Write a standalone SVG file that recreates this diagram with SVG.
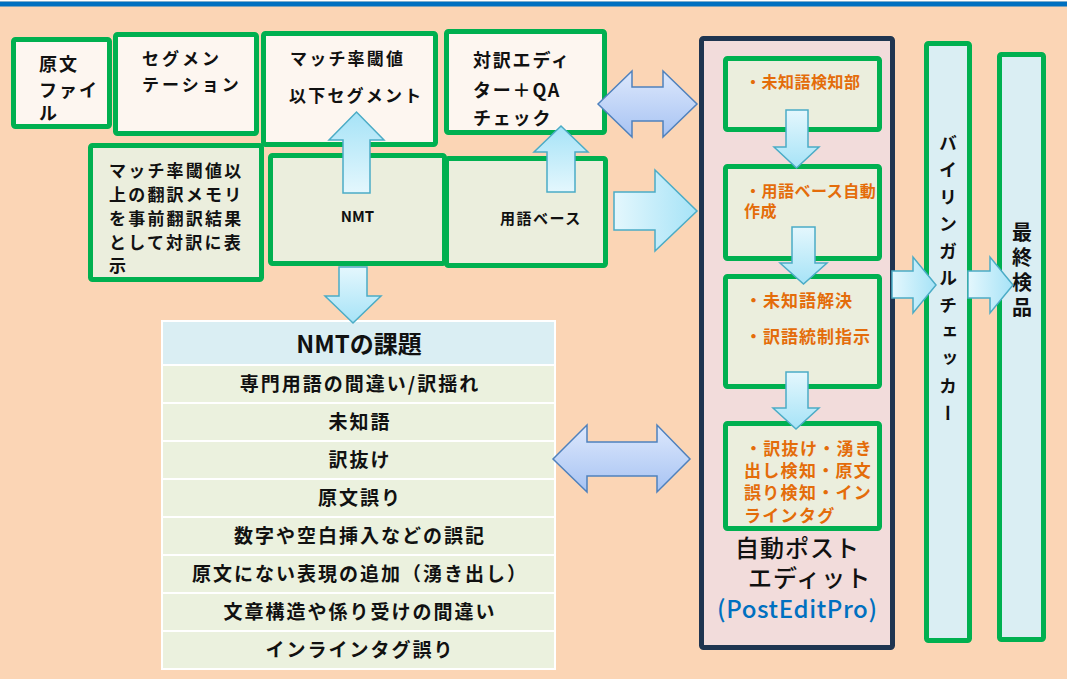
<svg xmlns="http://www.w3.org/2000/svg" width="1067" height="679" viewBox="0 0 1067 679">
<defs>
<linearGradient id="gUp" x1="0" y1="1" x2="0" y2="0"><stop offset="0" stop-color="#E4F7FD"/><stop offset="1" stop-color="#A6E3F7"/></linearGradient>
<linearGradient id="gDown" x1="0" y1="0" x2="0" y2="1"><stop offset="0" stop-color="#E4F7FD"/><stop offset="1" stop-color="#A6E3F7"/></linearGradient>
<linearGradient id="gRight" x1="0" y1="0" x2="1" y2="0"><stop offset="0" stop-color="#E4F7FD"/><stop offset="1" stop-color="#A6E3F7"/></linearGradient>
<linearGradient id="gBlue" x1="0" y1="0" x2="0" y2="1"><stop offset="0" stop-color="#DDE8FC"/><stop offset="1" stop-color="#A7C3F3"/></linearGradient>
<style>
.bg{fill:#FBD5B5}
.box{stroke:#00B050;stroke-width:5}
.lt{fill:#FDF6F0}
.gr{fill:#EBEEDD}
.bl{fill:#DAEEF3}
.t{font-family:"Noto Sans CJK JP","Noto Sans",sans-serif;font-weight:bold;fill:#111}
.or{font-family:"Noto Sans CJK JP",sans-serif;font-weight:bold;fill:#E46C0A}
.cy{stroke:#4BACC6;stroke-width:1.5;stroke-linejoin:miter}
.bd{fill:url(#gBlue);stroke:#4F81BD;stroke-width:1.5}
.row{fill:#EBF1DE}
.rt{font-family:"Noto Sans CJK JP",sans-serif;font-weight:bold;font-size:19px;letter-spacing:2px;fill:#111;text-anchor:middle}
</style>
</defs>
<rect class="bg" x="0" y="0" width="1067" height="679"/>
<rect x="0" y="0" width="1067" height="1.5" fill="#ffffff"/>
<rect x="0" y="1.5" width="1067" height="5" fill="#0070C0"/>

<g id="genbun">
<rect class="box lt" x="13.5" y="39.5" width="96" height="87" rx="2"/>
<text class="t" font-size="18" letter-spacing="2" x="39" y="71">原文</text>
<text class="t" font-size="18" letter-spacing="2" x="39" y="97">ファイ</text>
<text class="t" font-size="18" letter-spacing="2" x="39" y="120">ル</text>
</g>
<g id="segment">
<rect class="box lt" x="115.5" y="34.5" width="141" height="99" rx="2"/>
<text class="t" font-size="17" letter-spacing="3" x="142" y="65">セグメン</text>
<text class="t" font-size="17" letter-spacing="3" x="142" y="91">テーション</text>
</g>
<g id="below">
<rect class="box lt" x="263.5" y="33.5" width="172" height="111" rx="2"/>
<text class="t" font-size="17" letter-spacing="2.2" x="290" y="65">マッチ率閾値</text>
<text class="t" font-size="17" letter-spacing="2.2" x="289" y="102">以下セグメント</text>
</g>
<g id="editor">
<rect class="box lt" x="446.5" y="31.5" width="158" height="101" rx="2"/>
<text class="t" font-size="18" letter-spacing="1.8" x="473" y="67">対訳エディ</text>
<text class="t" font-size="18" letter-spacing="1.8" x="473" y="97">ター＋QA</text>
<text class="t" font-size="18" letter-spacing="1.8" x="473" y="125">チェック</text>
</g>
<g id="tm">
<rect class="box gr" x="90.5" y="145.5" width="171" height="134" rx="2"/>
<text class="t" font-size="17" letter-spacing="2.2" x="109" y="177">マッチ率閾値以</text>
<text class="t" font-size="17" letter-spacing="2.2" x="109" y="201">上の翻訳メモリ</text>
<text class="t" font-size="17" letter-spacing="2.2" x="109" y="225">を事前翻訳結果</text>
<text class="t" font-size="17" letter-spacing="2.2" x="109" y="249">として対訳に表</text>
<text class="t" font-size="17" letter-spacing="2.2" x="109" y="272">示</text>
</g>
<g id="nmt">
<rect class="box gr" x="270.5" y="155.5" width="174" height="108" rx="2"/>
<text class="t" font-size="15" x="357.5" y="222" text-anchor="middle">NMT</text>
</g>
<g id="termbase">
<rect class="box gr" x="446.5" y="158.5" width="159" height="107" rx="2"/>
<text class="t" font-size="15" letter-spacing="1.5" x="541" y="224" text-anchor="middle">用語ベース</text>
</g>

<g id="issues">
<rect x="161" y="320" width="395" height="350" fill="#ffffff"/>
<rect class="bl" x="163" y="322" width="391" height="42"/>
<text class="t" font-size="24" x="359" y="353" text-anchor="middle">NMTの課題</text>
<rect class="row" x="163" y="366" width="391" height="36"/>
<rect class="row" x="163" y="404" width="391" height="36"/>
<rect class="row" x="163" y="442" width="391" height="36"/>
<rect class="row" x="163" y="480" width="391" height="36"/>
<rect class="row" x="163" y="518" width="391" height="36"/>
<rect class="row" x="163" y="556" width="391" height="36"/>
<rect class="row" x="163" y="594" width="391" height="36"/>
<rect class="row" x="163" y="632" width="391" height="36"/>
<text class="rt" x="360" y="391">専門用語の間違い/訳揺れ</text>
<text class="rt" x="360" y="429">未知語</text>
<text class="rt" x="360" y="467">訳抜け</text>
<text class="rt" x="360" y="505">原文誤り</text>
<text class="rt" x="360" y="543">数字や空白挿入などの誤記</text>
<text class="rt" x="360" y="581">原文にない表現の追加（湧き出し）</text>
<text class="rt" x="360" y="619">文章構造や係り受けの間違い</text>
<text class="rt" x="360" y="657">インラインタグ誤り</text>
</g>

<g id="ape">
<rect x="701.5" y="38.5" width="191" height="609" rx="2" fill="#F2DCDB" stroke="#1F3550" stroke-width="5"/>
<text font-family="'Noto Sans CJK JP',sans-serif" font-weight="500" font-size="24" letter-spacing="1" fill="#111" x="735" y="557">自動ポスト</text>
<text font-family="'Noto Sans CJK JP',sans-serif" font-weight="500" font-size="24" letter-spacing="1" fill="#111" x="748" y="587">エディット</text>
<text font-family="'Noto Sans CJK JP',sans-serif" font-weight="500" font-size="24" fill="#0070C0" x="717" y="618" textLength="160" lengthAdjust="spacing">(PostEditPro)</text>
</g>
<g id="unknown-detect">
<rect class="box gr" x="725.5" y="58.5" width="154" height="71" rx="2"/>
<text class="or" font-size="16" x="745" y="88" letter-spacing="0.5">・未知語検知部</text>
</g>
<g id="term-auto">
<rect class="box gr" x="725.5" y="166.5" width="154" height="92" rx="2"/>
<text class="or" font-size="16" letter-spacing="0.5" x="745" y="197">・用語ベース自動</text>
<text class="or" font-size="16" letter-spacing="0.5" x="744" y="217">作成</text>
</g>
<g id="resolve">
<rect class="box gr" x="725.5" y="276.5" width="154" height="110" rx="2"/>
<text class="or" font-size="17" letter-spacing="1" x="745" y="307">・未知語解決</text>
<text class="or" font-size="17" letter-spacing="1" x="745" y="343">・訳語統制指示</text>
</g>
<g id="omission">
<rect class="box gr" x="725.5" y="423.5" width="154" height="105" rx="2"/>
<text class="or" font-size="17" letter-spacing="1.3" x="745" y="455">・訳抜け・湧き</text>
<text class="or" font-size="17" letter-spacing="1.3" x="744" y="477">出し検知・原文</text>
<text class="or" font-size="17" letter-spacing="1.3" x="744" y="499">誤り検知・イン</text>
<text class="or" font-size="17" letter-spacing="1.3" x="744" y="522">ラインタグ</text>
</g>
<g id="bilingual">
<rect class="box bl" x="926.5" y="43.5" width="43" height="597" rx="2"/>
<text class="t" font-size="18" writing-mode="vertical-rl" style="writing-mode:vertical-rl" letter-spacing="9" x="948" y="134">バイリンガルチェッカー</text>
</g>
<g id="final">
<rect class="box bl" x="999.5" y="54.5" width="44" height="585" rx="2"/>
<text class="t" font-size="20" writing-mode="vertical-rl" style="writing-mode:vertical-rl" letter-spacing="5" x="1022" y="222">最終検品</text>
</g>

<g id="connectors">
<path class="cy" fill="url(#gUp)" d="M343,193 L343,140 L329,140 L356.5,112 L384,140 L370,140 L370,193 Z"/>
<path class="cy" fill="url(#gDown)" d="M339,267 L367,267 L367,296 L381,296 L353,323 L325,296 L339,296 Z"/>
<path class="cy" fill="url(#gUp)" d="M547,192 L547,152 L534,152 L561,126 L588,152 L575,152 L575,192 Z"/>
<path class="bd" d="M598,104 L632,71 L632,87 L663,87 L663,71 L697,104 L663,137 L663,121 L632,121 L632,137 Z"/>
<path class="cy" fill="url(#gRight)" d="M614,192 L655,192 L655,170 L697,211 L655,251 L655,230 L614,230 Z"/>
<path class="bd" d="M553,459 L587,425 L587,442 L657,442 L657,425 L690,459 L657,492 L657,476 L587,476 L587,492 Z"/>
<path class="cy" fill="url(#gDown)" d="M786,110 L808,110 L808,147 L819,147 L796.5,168 L774,147 L786,147 Z"/>
<path class="cy" fill="url(#gDown)" d="M792,227 L815,227 L815,263 L827,263 L803.5,284 L780,263 L792,263 Z"/>
<path class="cy" fill="url(#gDown)" d="M786,372 L808,372 L808,408 L819,408 L796,429 L773,408 L786,408 Z"/>
<path class="cy" fill="url(#gRight)" d="M892,271 L913,271 L913,257 L936,285 L913,313 L913,298 L892,298 Z"/>
<path class="cy" fill="url(#gRight)" d="M968,271 L990,271 L990,257 L1013,285 L990,313 L990,298 L968,298 Z"/>
</g>
</svg>
